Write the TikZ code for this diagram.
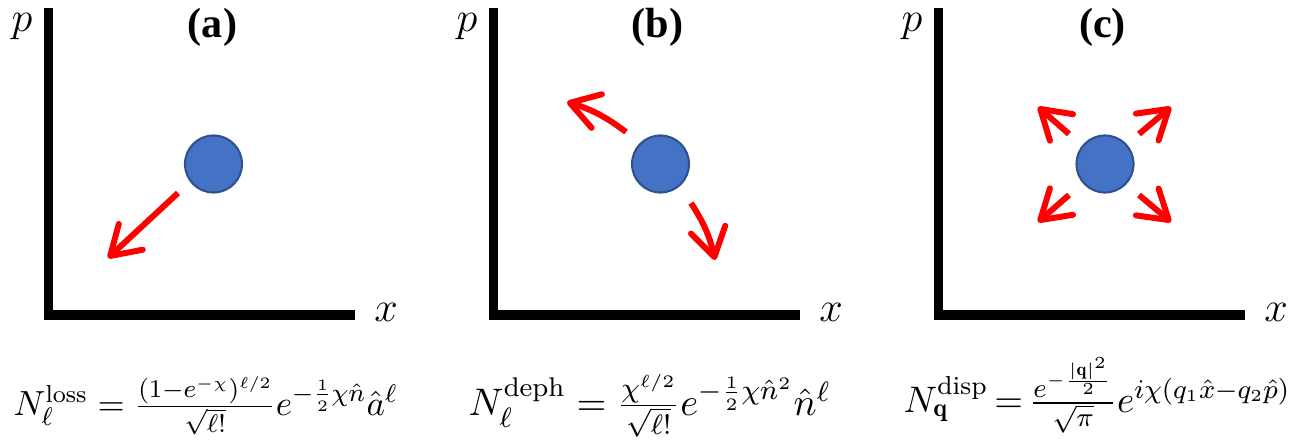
\documentclass[tikz,border=0pt]{standalone}
\usepackage{amsmath, amssymb}
\usepackage{graphicx}
\usepackage{fontspec}
\newfontfamily\tagfont{Liberation Serif}
\usepackage{tikz}
\usetikzlibrary{arrows.meta}

\definecolor{dotblue}{RGB}{68,114,196}
\definecolor{dotedge}{RGB}{47,82,143}

\begin{document}
\begin{tikzpicture}[
    axis/.style={line width=2.6pt, line join=miter},
    dot/.style={circle, fill=dotblue, draw=dotedge, line width=0.6pt, minimum size=0.57cm, inner sep=0pt},
    kick/.style={red, line width=1.7pt, -{Straight Barb[length=8pt, width=10pt, round]}},
    axlabel/.style={inner sep=0pt, font=\fontsize{12.5}{14}\selectfont},
    tag/.style={inner sep=0pt, font=\fontsize{12}{14}\selectfont\tagfont\bfseries},
    eqn/.style={inner sep=0pt, anchor=base west, font=\fontsize{11}{13}\selectfont}
  ]
  \useasboundingbox (0,0) rectangle (13,4.39);

  % (a) loss
  \draw[axis] (0.485,4.31) |- (3.55,1.24);
  \node[axlabel] (pa) at (0.22,4.12) {$p$};
  \node[axlabel] (xa) at (3.86,1.27) {$x$};
  \node[tag] (taga) at (2.125,4.12) {(a)};
  \node[dot] (dota) at (2.135,2.75) {};
  \draw[kick] (1.78,2.46) -- (1.08,1.81);
  \node[eqn] (eqa) at (0.13,0.24) {\resizebox{3.84cm}{!}%
    {$N_\ell^{\mathrm{loss}} = \frac{(1-e^{-\chi})^{\ell/2}}{\sqrt{\ell!}}e^{-\frac{1}{2}\chi\hat{n}}\hat{a}^\ell$}};

  % (b) dephasing
  \draw[axis] (4.935,4.31) |- (8.00,1.24);
  \node[axlabel] (pb) at (4.67,4.12) {$p$};
  \node[axlabel] (xb) at (8.31,1.27) {$x$};
  \node[tag] (tagb) at (6.575,4.12) {(b)};
  \node[dot] (dotb) at (6.605,2.75) {};
  \draw[kick] (6.26,3.07) to[bend right=10] (5.67,3.37);
  \draw[kick] (6.91,2.36) to[bend left=10] (7.15,1.79);
  \node[eqn] (eqb) at (4.68,0.24) {\resizebox{3.62cm}{!}%
    {$N_\ell^{\mathrm{deph}} = \frac{\chi^{\ell/2}}{\sqrt{\ell!}}e^{-\frac{1}{2}\chi\hat{n}^2}\hat{n}^\ell$}};

  % (c) displacement
  \draw[axis] (9.385,4.31) |- (12.45,1.24);
  \node[axlabel] (pc) at (9.12,4.12) {$p$};
  \node[axlabel] (xc) at (12.76,1.27) {$x$};
  \node[tag] (tagc) at (11.025,4.12) {(c)};
  \node[dot] (dotc) at (11.05,2.75) {};
  \draw[kick] (10.69,3.05) -- (10.38,3.32);
  \draw[kick] (11.39,3.05) -- (11.71,3.32);
  \draw[kick] (10.69,2.44) -- (10.38,2.17);
  \draw[kick] (11.39,2.44) -- (11.71,2.17);
  \node[eqn] (eqc) at (9.03,0.27) {\resizebox{3.87cm}{!}%
    {$\thickmuskip=3mu\medmuskip=2mu N_{\mathbf{q}}^{\mathrm{disp}} = \frac{e^{-\frac{|\mathbf{q}|^2}{2}}}{\sqrt{\pi}}e^{i\chi(q_1\hat{x}-q_2\hat{p})}$}};
\end{tikzpicture}
\end{document}
